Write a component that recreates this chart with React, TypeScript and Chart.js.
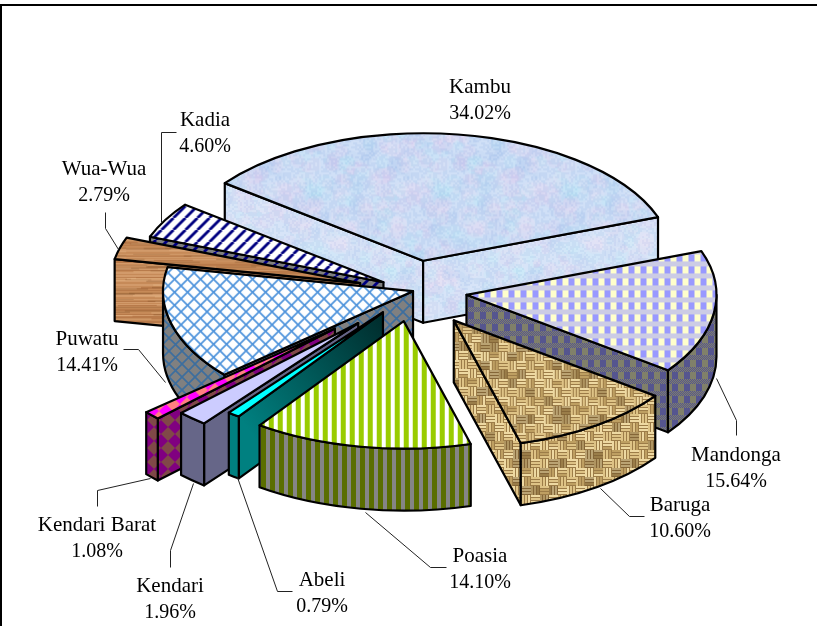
import React, { useEffect, useRef } from "react";
import Chart from "chart.js/auto";

// ---- data ----
const categories = ["Kambu", "Mandonga", "Baruga", "Poasia", "Abeli", "Kendari", "Kendari Barat", "Puwatu", "Wua-Wua", "Kadia"];
const shares = [34.02, 15.64, 10.6, 14.1, 0.79, 1.96, 1.08, 14.41, 2.79, 4.6];

// ---- look ----
const W = 817;
const H = 626;
const SQUASH = 0.51;
const DEPTH = 62;
const RADIUS = 250;
const explode = [60, 53, 70, 60, 52, 84, 108, 1, 56, 35];
const paintOrder = [0, 9, 8, 7, 1, 2, 6, 5, 4, 3];
const labelCentres = [
  [480, 85], [736, 453], [680, 503], [480, 554], [322, 578],
  [170, 584], [97, 523], [87, 337], [104, 167], [205, 118],
];
const LINE_GAP = 27;
const leaders: number[][][] = [
  [],
  [[736, 435], [736, 420], [716, 378]],
  [[644, 516], [629, 516], [600, 488]],
  [[446, 567], [430, 567], [365, 512]],
  [[292, 591], [277, 591], [237, 477]],
  [[170, 567], [170, 550], [193, 483]],
  [[97, 506], [97, 490], [150, 478]],
  [[123, 349], [138, 349], [165, 382]],
  [[105, 212], [105, 228], [118, 249]],
  [[176, 132], [161, 132], [161, 222]],
];

function tile(w: number, h: number, paint: (c: CanvasRenderingContext2D) => void) {
  const cv = document.createElement("canvas");
  cv.width = w;
  cv.height = h;
  const c = cv.getContext("2d")!;
  paint(c);
  return cv;
}

function lcg(seed: number) {
  let s = seed;
  return () => {
    s = (s * 1103515245 + 12345) & 0x7fffffff;
    return s / 0x7fffffff;
  };
}

function paper(white: number) {
  return tile(128, 128, (c) => {
    const r = lcg(7);
    c.fillStyle = "#CBDDF6";
    c.fillRect(0, 0, 128, 128);
    const tints = ["rgba(225,200,238,0.22)", "rgba(180,232,245,0.22)", "rgba(170,200,240,0.2)", "rgba(235,225,245,0.2)"];
    for (let i = 0; i < 260; i++) {
      c.fillStyle = tints[i % 4];
      const x = r() * 128, y = r() * 128, d = 3 + r() * 6;
      for (const [dx, dy] of [[0, 0], [128, 0], [-128, 0], [0, 128], [0, -128]]) {
        c.beginPath();
        c.arc(x + dx, y + dy, d, 0, 7);
        c.fill();
      }
    }
    for (let y = 0; y < 128; y += 2) for (let x = 0; x < 128; x += 2) {
      c.fillStyle = r() > 0.5 ? "rgba(255,255,255,0.10)" : "rgba(120,140,210,0.07)";
      c.fillRect(x, y, 2, 2);
    }
    if (white) {
      c.fillStyle = `rgba(255,255,255,${white})`;
      c.fillRect(0, 0, 128, 128);
    }
  });
}

function gingham(a: string, b: string, dithered: string) {
  return tile(12, 12, (c) => {
    c.fillStyle = a;
    c.fillRect(0, 0, 6, 7);
    c.fillStyle = b;
    c.fillRect(6, 0, 6, 7);
    for (let y = 7; y < 12; y++) for (let x = 0; x < 12; x++) {
      c.fillStyle = (x + y) % 2 ? a : dithered;
      c.fillRect(x, y, 1, 1);
    }
  });
}

function burlap() {
  return tile(72, 72, (c) => {
    const r = lcg(21);
    const block = 9;
    c.fillStyle = "#9C7C48";
    c.fillRect(0, 0, 72, 72);
    for (let j = 0; j < 8; j++) for (let i = 0; i < 8; i++) {
      const across = (i + j) % 2 === 0;
      for (let t = 0; t < 3; t++) {
        const n = r();
        c.fillStyle = n > 0.55 ? "#EED9A2" : n > 0.2 ? "#DEC386" : "#BE9F62";
        if (across) c.fillRect(i * block, j * block + t * 3, block, 2);
        else c.fillRect(i * block + t * 3, j * block, 2, block);
      }
      if (r() < 0.25) {
        c.fillStyle = "rgba(90,62,28,0.35)";
        c.fillRect(i * block, j * block, block, block);
      }
    }
  });
}

function stripes(a: string, b: string, na: number, nb: number) {
  return tile(na + nb, 4, (c) => {
    c.fillStyle = a;
    c.fillRect(0, 0, na, 4);
    c.fillStyle = b;
    c.fillRect(na, 0, nb, 4);
  });
}

function diamonds(a: string, b: string) {
  return tile(14, 14, (c) => {
    c.fillStyle = a;
    c.fillRect(0, 0, 14, 14);
    c.fillStyle = b;
    c.beginPath();
    c.moveTo(7, 0);
    c.lineTo(14, 7);
    c.lineTo(7, 14);
    c.lineTo(0, 7);
    c.closePath();
    c.fill();
  });
}

function lattice(bg: string, line: string) {
  return tile(13, 13, (c) => {
    c.fillStyle = bg;
    c.fillRect(0, 0, 13, 13);
    c.strokeStyle = line;
    c.lineWidth = 1.7;
    for (const o of [-13, 0, 13]) {
      c.beginPath();
      c.moveTo(o, 0);
      c.lineTo(o + 13, 13);
      c.moveTo(o + 13, 0);
      c.lineTo(o, 13);
      c.stroke();
    }
  });
}

function wood() {
  return tile(90, 60, (c) => {
    const r = lcg(5);
    for (let y = 0; y < 60; y++) {
      const v = r();
      c.fillStyle = v > 0.7 ? "#D29A6A" : v > 0.3 ? "#C68A58" : "#B87A4A";
      c.fillRect(0, y, 90, 1);
    }
    for (let i = 0; i < 40; i++) {
      c.fillStyle = i % 2 ? "rgba(120,70,30,0.25)" : "rgba(235,190,140,0.35)";
      c.fillRect(r() * 90 - 20, r() * 60, 25 + r() * 45, 1.5);
    }
  });
}

function diagonal(bg: string, line: string) {
  return tile(12, 12, (c) => {
    c.fillStyle = bg;
    c.fillRect(0, 0, 12, 12);
    c.strokeStyle = line;
    c.lineWidth = 2.8;
    for (const o of [-12, 0, 12]) {
      c.beginPath();
      c.moveTo(o, 12);
      c.lineTo(o + 12, 0);
      c.stroke();
    }
  });
}

export default function App() {
  const ref = useRef<HTMLCanvasElement>(null);
  useEffect(() => {
    document.body.style.margin = "0";
    const canvas = ref.current!;
    const ctx = canvas.getContext("2d")!;
    const pat = (cv: HTMLCanvasElement, squashed = false) => {
      const p = ctx.createPattern(cv, "repeat")!;
      if (squashed) p.setTransform(new DOMMatrix().scale(1, 1 / SQUASH));
      return p;
    };
    const tops: (string | CanvasPattern)[] = [
      pat(paper(0), true),
      pat(gingham("#9999FF", "#FFFFCC", "#FFFFCC"), true),
      pat(burlap(), true),
      pat(stripes("#99CC00", "#FFFFFF", 5, 4), true),
      "#00FFFF",
      "#CCCCFF",
      pat(diamonds("#FF8080", "#FF00FF"), true),
      pat(lattice("#FFFFFF", "#4F94DC"), true),
      pat(wood(), true),
      pat(diagonal("#FFFFFF", "#000080"), true),
    ];
    const walls: (string | CanvasPattern | null)[] = [
      pat(paper(0.15)),
      pat(gingham("#55558F", "#80806A", "#80806A")),
      pat(burlap()),
      pat(stripes("#5A6E00", "#858585", 5, 4)),
      null,
      "#666688",
      pat(diamonds("#804848", "#800080")),
      pat(lattice("#808080", "#3D6E9E")),
      pat(wood()),
      pat(diagonal("#808080", "#000080")),
    ];

    const pie3d = {
      id: "pie3d",
      beforeDraw(chart: any) {
        const c = chart.ctx;
        c.save();
        c.fillStyle = "#FFFFFF";
        c.fillRect(0, 0, W, H);
        c.strokeStyle = "#000000";
        c.lineWidth = 2;
        c.beginPath();
        c.moveTo(1, H);
        c.lineTo(1, 5);
        c.lineTo(W, 5);
        c.stroke();
        c.restore();
      },
      beforeDatasetDraw(chart: any, args: any) {
        const c: CanvasRenderingContext2D = chart.ctx;
        const arcs = args.meta.data;
        for (const i of paintOrder) {
          const arc = arcs[i];
          const { x, y, startAngle: s, endAngle: e, outerRadius: r } = arc;
          const mid = (s + e) / 2;
          const ox = Math.cos(mid) * explode[i];
          const oy = Math.sin(mid) * explode[i];
          const ax = x + ox;
          const ay = y + oy * SQUASH;
          const corner = (a: number) => [ax + r * Math.cos(a), ay + r * SQUASH * Math.sin(a)];
          c.save();
          c.lineWidth = 2.2;
          c.strokeStyle = "#000000";
          c.lineJoin = "round";

          const radial = (a: number) => {
            const [px, py] = corner(a);
            c.beginPath();
            c.moveTo(ax, ay);
            c.lineTo(px, py);
            c.lineTo(px, py + DEPTH);
            c.lineTo(ax, ay + DEPTH);
            c.closePath();
            if (walls[i]) c.fillStyle = walls[i] as any;
            else {
              const g = c.createLinearGradient(ax, ay, px, py);
              g.addColorStop(0, "#002B2B");
              g.addColorStop(1, "#008080");
              c.fillStyle = g;
            }
            c.fill();
            c.stroke();
          };
          if (Math.cos(s) < 0) radial(s);
          if (Math.cos(e) > 0) radial(e);

          // outer curved wall: the part of the rim facing the viewer
          const TAU = Math.PI * 2;
          for (const k of [-1, 0, 1]) {
            const a0 = Math.max(s, k * TAU);
            const a1 = Math.min(e, k * TAU + Math.PI);
            if (a1 <= a0) continue;
            c.beginPath();
            c.ellipse(ax, ay, r, r * SQUASH, 0, a0, a1);
            c.ellipse(ax, ay + DEPTH, r, r * SQUASH, 0, a1, a0, true);
            c.closePath();
            if (walls[i]) c.fillStyle = walls[i] as any;
            else {
              const g = c.createLinearGradient(0, ay, 0, ay + DEPTH + 40);
              g.addColorStop(0, "#002B2B");
              g.addColorStop(1, "#008080");
              c.fillStyle = g;
            }
            c.fill();
            c.stroke();
          }

          // top face: the library's own arc element, tilted
          c.save();
          c.translate(x, y);
          c.scale(1, SQUASH);
          c.translate(-x, -y);
          c.translate(ox, oy);
          arc.draw(c);
          c.restore();

          c.beginPath();
          c.moveTo(ax, ay);
          c.ellipse(ax, ay, r, r * SQUASH, 0, s, e);
          c.closePath();
          c.stroke();
          c.restore();
        }
        return false;
      },
      afterDraw(chart: any) {
        const c: CanvasRenderingContext2D = chart.ctx;
        c.save();
        c.strokeStyle = "#222222";
        c.lineWidth = 1;
        leaders.forEach((pts) => {
          if (!pts.length) return;
          c.beginPath();
          pts.forEach(([px, py], n) => (n ? c.lineTo(px + 0.5, py + 0.5) : c.moveTo(px + 0.5, py + 0.5)));
          c.stroke();
        });
        c.fillStyle = "#000000";
        c.textAlign = "center";
        c.textBaseline = "middle";
        categories.forEach((name, i) => {
          const [lx, ly] = labelCentres[i];
          c.font = "21px 'Liberation Serif'";
          c.fillText(name, lx, ly + 2);
          c.font = "20px 'Liberation Serif'";
          c.fillText(`${shares[i].toFixed(2)}%`, lx, ly + 2 + LINE_GAP);
        });
        c.restore();
      },
    };

    const chart = new Chart(canvas, {
      type: "pie",
      data: {
        labels: categories,
        datasets: [
          {
            data: shares,
            backgroundColor: tops as any,
            borderWidth: 0,
            radius: RADIUS,
          } as any,
        ],
      },
      options: {
        responsive: false,
        animation: false,
        rotation: -52.5,
        events: [],
        layout: { padding: { left: 11, bottom: 44 } },
        plugins: { legend: { display: false }, tooltip: { enabled: false } },
      },
      plugins: [pie3d as any],
    });
    return () => chart.destroy();
  }, []);
  return <canvas ref={ref} width={W} height={H} style={{ display: "block", width: W, height: H }} />;
}
